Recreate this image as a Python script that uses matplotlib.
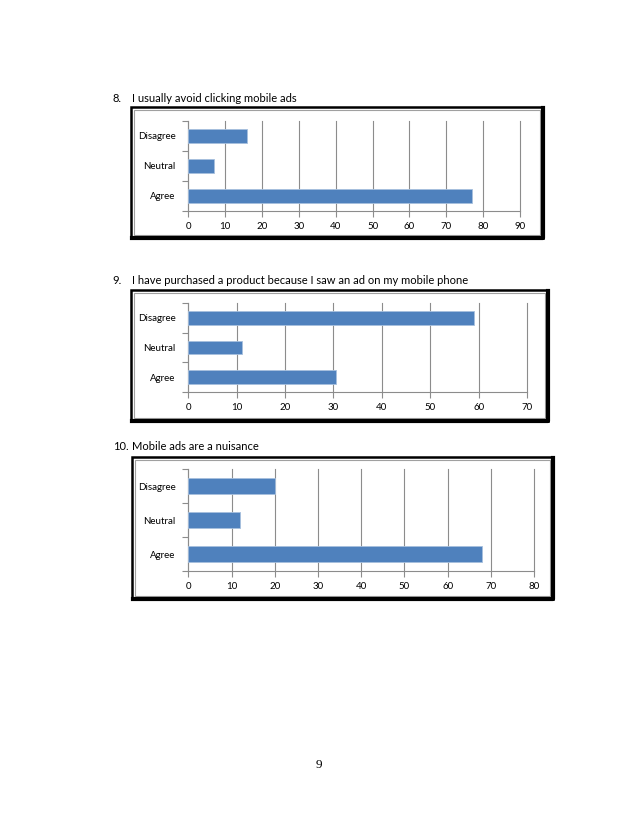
import numpy as np
import matplotlib
matplotlib.use("Agg")
import matplotlib.pyplot as plt
from matplotlib.patches import Rectangle

# Survey answers
categories = ["Agree", "Neutral", "Disagree"]
avoidClicking = [77, 7, 16]
purchasedFromAd = [30.5, 11, 59]
adsNuisance = [68, 12, 20]

questionNumbers = ["8.", "9.", "10."]
questions = ["I usually avoid clicking mobile ads",
             "I have purchased a product because I saw an ad on my mobile phone",
             "Mobile ads are a nuisance"]
xMax = [90, 70, 80]
pageNumber = "9"

W, H = 638, 826
barColor = "#4F81BD"
gridColor = "#8C8C8C"
plt.rcParams['font.family'] = ['Lato', 'DejaVu Sans']

fig = plt.figure(figsize=(W / 100, H / 100), dpi=100)
fig.patch.set_facecolor("white")

def pix_rect(x0, y0, x1, y1):
    # convert page pixel box to figure fraction
    return [x0 / W, 1 - y1 / H, (x1 - x0) / W, (y1 - y0) / H]

# (axes box, frame box, title y) in pixels
layouts = [
    ((188.3, 120.7, 520, 211), (131, 107, 543, 238), 99),
    ((188.3, 303, 527, 392), (131, 290, 548, 421), 281),
    ((188.3, 469, 534, 571), (132, 457, 553, 599), 447),
]
allValues = [avoidClicking, purchasedFromAd, adsNuisance]

for i, (axBox, frameBox, titleY) in enumerate(layouts):
    # frame around the chart: black outline, darker right/bottom edge, thin grey inner line
    fx0, fy0, fx1, fy1 = frameBox
    outer = Rectangle((fx0 / W, 1 - fy1 / H), (fx1 - fx0) / W, (fy1 - fy0) / H,
                      transform=fig.transFigure, fill=False, edgecolor="black", linewidth=1.8)
    shadow = plt.Line2D([(fx0 + 1) / W, fx1 / W, fx1 / W], [1 - fy1 / H, 1 - fy1 / H, 1 - (fy0 + 1) / H],
                        transform=fig.transFigure, color="black", linewidth=3.0)
    inner = Rectangle(((fx0 + 3) / W, 1 - (fy1 - 3) / H), (fx1 - fx0 - 6) / W, (fy1 - fy0 - 6) / H,
                      transform=fig.transFigure, fill=False, edgecolor="#A0A0A0", linewidth=0.8)
    fig.patches.append(outer)
    fig.patches.append(inner)
    fig.lines.append(shadow)

    fig.text(112.7 / W, 1 - titleY / H, questionNumbers[i], fontsize=8, va="center", ha="left")
    fig.text(131.7 / W, 1 - titleY / H, questions[i], fontsize=8, va="center", ha="left")

    ax = fig.add_axes(pix_rect(*axBox))
    y = np.arange(len(categories))
    ax.barh(y, allValues[i], height=0.45, color=barColor, edgecolor="#A7C0DE", linewidth=0.6, zorder=3)
    ax.set_xlim(0, xMax[i])
    ax.set_ylim(-0.5, len(categories) - 0.5)
    ax.set_xticks(np.arange(0, xMax[i] + 1, 10))
    ax.set_yticks(y)
    ax.set_yticklabels(categories)
    ax.set_yticks(np.arange(-0.5, len(categories), 1), minor=True)
    ax.grid(axis="x", color=gridColor, linewidth=0.8, zorder=0)
    for line in ax.get_xgridlines():
        line.set_clip_on(False)
    for side in ["top", "right"]:
        ax.spines[side].set_visible(False)
    ax.spines["left"].set_color(gridColor)
    ax.spines["bottom"].set_color(gridColor)
    ax.spines["left"].set_linewidth(0.8)
    ax.spines["bottom"].set_linewidth(0.8)
    ax.tick_params(axis="y", which="major", length=0, pad=9, labelsize=7)
    ax.tick_params(axis="y", which="minor", length=4, color=gridColor, width=0.8)
    ax.tick_params(axis="x", length=4, color=gridColor, width=0.8, labelsize=7, pad=4)

fig.text(319 / W, 1 - 765 / H, pageNumber, fontsize=9.5, family="Liberation Serif",
         ha="center", va="center")

fig.savefig("out.png", dpi=100, facecolor="white")
